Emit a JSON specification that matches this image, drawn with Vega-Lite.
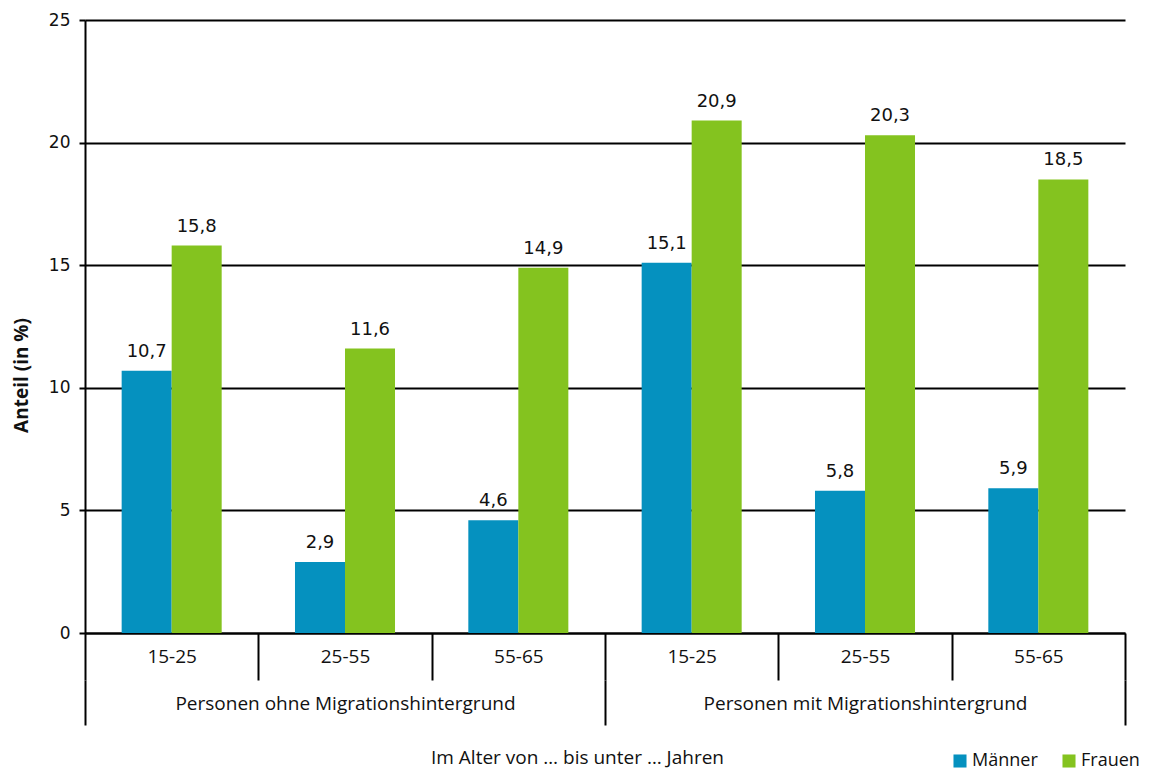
{
  "$schema": "https://vega.github.io/schema/vega-lite/v6.json",
  "autosize": {"type": "none"},
  "width": 1040,
  "height": 613,
  "padding": {"left": 85, "top": 20, "right": 26, "bottom": 143},
  "background": "white",
  "config": {
    "locale": {"number": {"decimal": ",", "thousands": ".", "grouping": [3], "currency": ["", " €"]}},
    "view": {"stroke": null},
    "axis": {"labelColor": "#111111", "titleColor": "#111111"}
  },
  "data": {
    "values": [
      {"cat": "ohne|15-25", "group": "Personen ohne Migrationshintergrund", "sex": "Männer", "value": 10.7},
      {"cat": "ohne|15-25", "group": "Personen ohne Migrationshintergrund", "sex": "Frauen", "value": 15.8},
      {"cat": "ohne|25-55", "group": "Personen ohne Migrationshintergrund", "sex": "Männer", "value": 2.9},
      {"cat": "ohne|25-55", "group": "Personen ohne Migrationshintergrund", "sex": "Frauen", "value": 11.6},
      {"cat": "ohne|55-65", "group": "Personen ohne Migrationshintergrund", "sex": "Männer", "value": 4.6},
      {"cat": "ohne|55-65", "group": "Personen ohne Migrationshintergrund", "sex": "Frauen", "value": 14.9},
      {"cat": "mit|15-25", "group": "Personen mit Migrationshintergrund", "sex": "Männer", "value": 15.1},
      {"cat": "mit|15-25", "group": "Personen mit Migrationshintergrund", "sex": "Frauen", "value": 20.9},
      {"cat": "mit|25-55", "group": "Personen mit Migrationshintergrund", "sex": "Männer", "value": 5.8},
      {"cat": "mit|25-55", "group": "Personen mit Migrationshintergrund", "sex": "Frauen", "value": 20.3},
      {"cat": "mit|55-65", "group": "Personen mit Migrationshintergrund", "sex": "Männer", "value": 5.9},
      {"cat": "mit|55-65", "group": "Personen mit Migrationshintergrund", "sex": "Frauen", "value": 18.5}
    ]
  },
  "encoding": {
    "y": {
      "field": "value", "type": "quantitative",
      "scale": {"domain": [0, 25]},
      "axis": {
        "title": "Anteil (in %)",
        "values": [0, 5, 10, 15, 20, 25],
        "grid": true, "gridColor": "black", "gridWidth": 2, "gridOpacity": 1,
        "domain": true, "domainColor": "black", "domainWidth": 2,
        "ticks": true, "tickColor": "black", "tickWidth": 2, "tickSize": 6,
        "labelFont": "DejaVu Sans", "labelFontSize": 17, "labelPadding": 9,
        "titleFont": "Open Sans", "titleFontWeight": "bold", "titleFontSize": 19,
        "titleAngle": -90, "titleX": -64, "titleY": 355, "titleAlign": "center", "titleBaseline": "middle"
      }
    }
  },
  "layer": [
    {
      "encoding": {
        "x": {
          "field": "cat", "type": "nominal", "sort": null,
          "scale": {"paddingInner": 0, "paddingOuter": 0},
          "axis": {
            "title": null,
            "labelExpr": "split(datum.label, '|')[1]",
            "labelAngle": 0, "labelLimit": 0,
            "labelFont": "Open Sans", "labelFontSize": 19, "labelPadding": -33,
            "tickBand": "extent", "ticks": true, "tickColor": "black", "tickWidth": 2, "tickSize": 47,
            "domain": true, "domainColor": "black", "domainWidth": 2
          }
        },
        "xOffset": {"field": "sex", "type": "nominal", "sort": ["Männer", "Frauen"], "scale": {"paddingInner": 0, "paddingOuter": 0.733}}
      },
      "layer": [
        {
          "mark": {"type": "bar"},
          "encoding": {
            "color": {
              "field": "sex", "type": "nominal", "sort": ["Männer", "Frauen"],
              "scale": {"domain": ["Männer", "Frauen"], "range": ["#0591BF", "#84C31F"]},
              "legend": {
                "title": null, "orient": "none", "direction": "horizontal",
                "legendX": 866, "legendY": 732,
                "symbolType": "square", "symbolSize": 170, "symbolStrokeWidth": 0,
                "labelFont": "Open Sans", "labelFontSize": 18, "labelColor": "#111111",
                "labelOffset": 3, "columnPadding": 22, "labelLimit": 0
              }
            }
          }
        },
        {
          "mark": {"type": "text", "baseline": "bottom", "dy": -10, "font": "DejaVu Sans", "fontSize": 18, "color": "#111111"},
          "encoding": {
            "text": {"field": "value", "type": "quantitative", "format": ".1f"}
          }
        }
      ]
    },
    {
      "mark": {"type": "bar", "opacity": 0},
      "encoding": {
        "x": {
          "field": "group", "type": "nominal", "sort": null,
          "scale": {"paddingInner": 0, "paddingOuter": 0},
          "axis": {
            "orient": "bottom", "offset": 47,
            "title": "Im Alter von … bis unter … Jahren",
            "titleFont": "Open Sans", "titleFontSize": 19, "titleFontWeight": "normal",
            "titleX": 492, "titleY": 83, "titleAlign": "center", "titleBaseline": "alphabetic",
            "labelAngle": 0, "labelLimit": 0,
            "labelFont": "Open Sans", "labelFontSize": 19, "labelPadding": -31,
            "tickBand": "extent", "ticks": true, "tickColor": "black", "tickWidth": 2, "tickSize": 45,
            "domain": false
          }
        }
      }
    }
  ],
  "resolve": {"scale": {"x": "independent"}}
}
